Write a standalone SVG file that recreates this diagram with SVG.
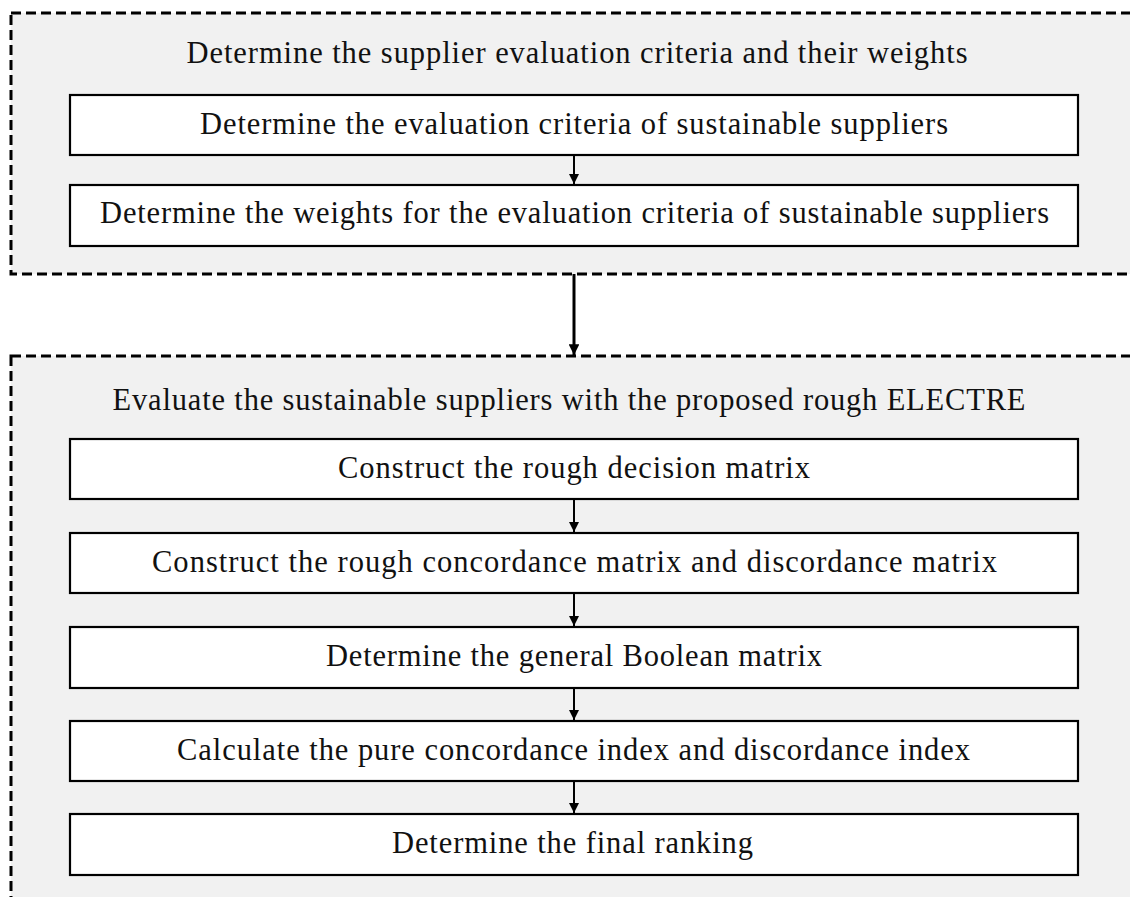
<svg xmlns="http://www.w3.org/2000/svg" width="1130" height="897" viewBox="0 0 1130 897">
<style>
.outer{fill:#f1f1f1;stroke:#000;stroke-width:3;stroke-dasharray:10 5}
.box{fill:#fff;stroke:#000;stroke-width:2.2}
.t{font-family:"Liberation Serif","Times New Roman",serif;font-size:30.5px;fill:#111;text-anchor:middle}
.c{stroke:#000;stroke-width:2;fill:none}
.cb{stroke:#000;stroke-width:3;fill:none}
</style>
<defs>
<marker id="ah" viewBox="0 0 10 10" refX="10" refY="5" markerWidth="5" markerHeight="5" markerUnits="strokeWidth" orient="auto">
<path d="M0,0 L10,5 L0,10 z" fill="#000"/>
</marker>
<marker id="ahb" viewBox="0 0 10 10" refX="10" refY="5" markerWidth="3.6" markerHeight="3.6" markerUnits="strokeWidth" orient="auto">
<path d="M0,0 L10,5 L0,10 z" fill="#000"/>
</marker>
</defs>
<rect width="1130" height="897" fill="#fff"/>
<g id="phase1">
<rect class="outer" x="11" y="13" width="1140" height="261"/>
<text class="t" x="577" y="63" textLength="781">Determine the supplier evaluation criteria and their weights</text>
</g>
<g id="phase2">
<rect class="outer" x="11" y="356" width="1140" height="560"/>
<text class="t" x="569" y="410" textLength="913">Evaluate the sustainable suppliers with the proposed rough ELECTRE</text>
</g>
<g id="n1">
<rect class="box" x="70" y="95" width="1008" height="60"/>
<text class="t" x="574" y="134" textLength="748">Determine the evaluation criteria of sustainable suppliers</text>
</g>
<g id="n2">
<rect class="box" x="70" y="185" width="1008" height="61"/>
<text class="t" x="574.5" y="223" textLength="949">Determine the weights for the evaluation criteria of sustainable suppliers</text>
</g>
<g id="n3">
<rect class="box" x="70" y="439" width="1008" height="60"/>
<text class="t" x="574" y="478" textLength="472">Construct the rough decision matrix</text>
</g>
<g id="n4">
<rect class="box" x="70" y="533" width="1008" height="60"/>
<text class="t" x="574.5" y="572" textLength="845">Construct the rough concordance matrix and discordance matrix</text>
</g>
<g id="n5">
<rect class="box" x="70" y="627" width="1008" height="61"/>
<text class="t" x="574" y="666" textLength="496">Determine the general Boolean matrix</text>
</g>
<g id="n6">
<rect class="box" x="70" y="721" width="1008" height="60"/>
<text class="t" x="573.5" y="760" textLength="793">Calculate the pure concordance index and discordance index</text>
</g>
<g id="n7">
<rect class="box" x="70" y="814" width="1008" height="61"/>
<text class="t" x="572.5" y="853" textLength="361">Determine the final ranking</text>
</g>
<g id="connectors">
<line class="c" x1="574" y1="155" x2="574" y2="184" marker-end="url(#ah)"/>
<line class="cb" x1="574" y1="274" x2="574" y2="355" marker-end="url(#ahb)"/>
<line class="c" x1="574" y1="499" x2="574" y2="532" marker-end="url(#ah)"/>
<line class="c" x1="574" y1="593" x2="574" y2="626" marker-end="url(#ah)"/>
<line class="c" x1="574" y1="688" x2="574" y2="720" marker-end="url(#ah)"/>
<line class="c" x1="574" y1="781" x2="574" y2="813" marker-end="url(#ah)"/>
</g>
</svg>
